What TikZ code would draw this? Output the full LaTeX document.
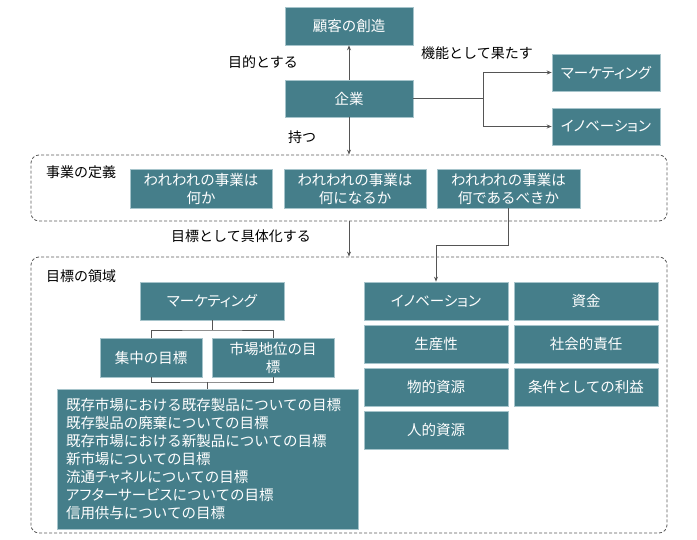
\documentclass[tikz,border=0pt]{standalone}
\usepackage{fontspec}
\setmainfont{Noto Sans CJK JP}
\newfontfamily\pfont[RawFeature=+palt]{Noto Sans CJK JP}
\usetikzlibrary{arrows.meta}
\definecolor{teal1}{HTML}{457E8A}
\definecolor{boxline}{HTML}{A6C4CB}
\definecolor{linec}{HTML}{555555}
\definecolor{dashc}{HTML}{5A5A5A}
\begin{document}
\begin{tikzpicture}[x=1pt,y=-1pt,
  box/.style={draw=boxline, line width=0.6pt, fill=teal1, text=white,
    font=\fontsize{14.5}{18}\selectfont, align=center, inner sep=2pt},
  lbl/.style={font=\fontsize{14}{17}\selectfont, text=black, inner sep=0pt},
  conn/.style={draw=linec, line width=0.8pt},
  arr/.style={conn, -{Stealth[length=5pt,width=4pt]}},
  dbox/.style={draw=dashc, dash pattern=on 3pt off 2pt, rounded corners=8pt, line width=0.8pt}]
\useasboundingbox (0,0) rectangle (697,540);

% top part
\node[box, minimum width=128, minimum height=38] (kokyaku) at (349,26) {顧客の創造};
\node[box, minimum width=128, minimum height=37] (kigyo) at (349,98.5) {企業};
\node[box, minimum width=108, minimum height=37] (mk1) at (606,72.5) {\pfont マーケティング};
\node[box, minimum width=108, minimum height=37] (ino1) at (606,126.5) {\pfont イノベーション};

\node[lbl] (l1) at (263,62) {目的とする};
\node[lbl] (l2) at (477,53) {機能として果たす};
\node[lbl] (l3) at (302,137) {持つ};

\draw[arr] (kigyo.north) -- (kokyaku.south);
\coordinate (j1) at (483,98.5);
\draw[conn] (kigyo.east) -- (j1);
\draw[arr] (j1) |- (mk1.west);
\draw[arr] (j1) |- (ino1.west);

% definition of business
\node[dbox, minimum width=636, minimum height=66] (def) at (349,188) {};
\node[lbl, anchor=west] (l4) at (46,172) {事業の定義};
\node[box, minimum width=142, minimum height=39] (b1) at (201,188.5) {われわれの事業は\\何か};
\node[box, minimum width=142, minimum height=39] (b2) at (355,188.5) {われわれの事業は\\何になるか};
\node[box, minimum width=143, minimum height=39] (b3) at (508.5,188.5) {われわれの事業は\\何であるべきか};
\draw[arr] (kigyo.south) -- (kigyo.south |- def.north);

\node[lbl] (l5) at (241,236) {目標として具体化する};

% goal areas
\node[dbox, minimum width=636, minimum height=276] (goal) at (349,395) {};
\draw[arr] (def.south -| kigyo.south) -- (goal.north -| kigyo.south);
\node[lbl, anchor=west] (l6) at (46,276) {目標の領域};

\node[box, minimum width=144, minimum height=38] (mk2) at (212,301) {\pfont マーケティング};
\node[box, minimum width=102, minimum height=39] (shu) at (151,357.5) {集中の目標};
\node[box, minimum width=122, minimum height=39] (chii) at (273,357.5) {市場地位の目\\標};
\node[box, minimum height=140, text width=283, inner xsep=9pt, align=left] (list) at (207.5,459)
  {既存市場における既存製品についての目標\\既存製品の廃棄についての目標\\既存市場における新製品についての目標\\新市場についての目標\\流通{\pfont チャネル}についての目標\\{\pfont アフターサービス}についての目標\\信用供与についての目標};

\coordinate (m1) at (mk2.south |- 0,330);
\draw[conn] (mk2.south) -- (m1);
\draw[conn] (shu.north) |- (m1) -| (chii.north);
\coordinate (m2) at (list.north |- 0,382);
\draw[conn] (shu.south) |- (m2) -| (chii.south);
\draw[conn] (m2) -- (list.north);

\node[box, minimum width=144, minimum height=38] (ino2) at (436,301) {\pfont イノベーション};
\node[box, minimum width=144, minimum height=38] (sei) at (436,344) {生産性};
\node[box, minimum width=144, minimum height=38] (butsu) at (436,387) {物的資源};
\node[box, minimum width=144, minimum height=38] (jin) at (436,430) {人的資源};
\node[box, minimum width=144, minimum height=38] (shikin) at (586,301) {資金};
\node[box, minimum width=144, minimum height=38] (sha) at (586,344) {社会的責任};
\node[box, minimum width=144, minimum height=38] (rieki) at (586,387) {条件としての利益};

\draw[arr] (b3.south) -- ++(0,37) -| (ino2.north);
\end{tikzpicture}
\end{document}
